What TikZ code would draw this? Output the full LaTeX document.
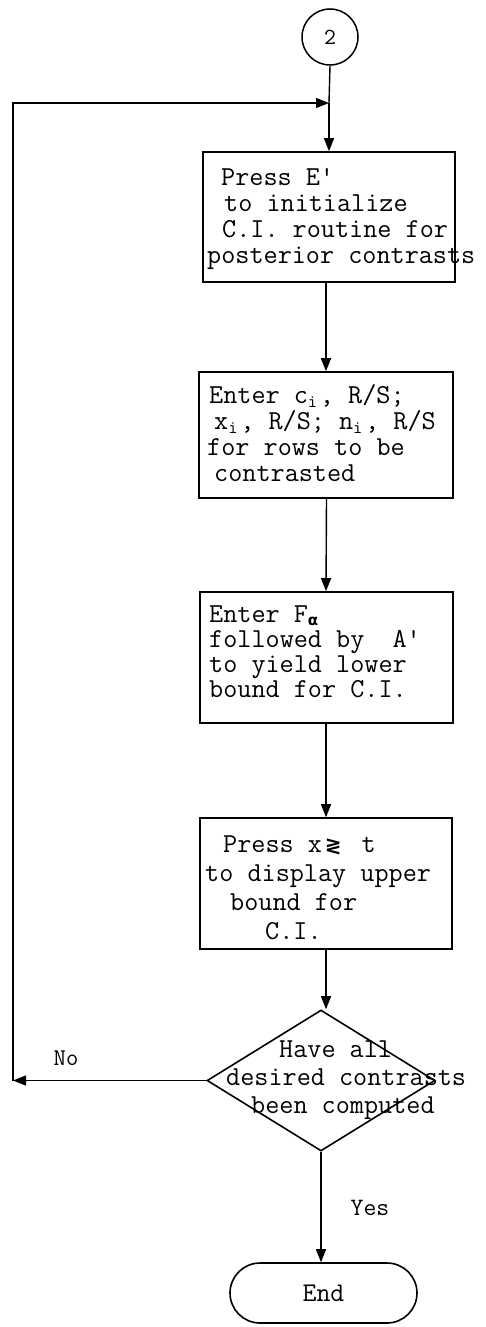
\documentclass[tikz,border=0pt]{standalone}
\usepackage{fontspec}
\newfontfamily\dejavu{DejaVu Sans}
\usetikzlibrary{arrows.meta,shapes.geometric}
\newcommand\tf[2]{\ttfamily\fontsize{#1}{#2}\selectfont}
\newcommand\subi{\raisebox{-4pt}{\makebox[12pt][l]{\fontsize{18}{18}\selectfont i}}}
\newcommand\fst{\rule{0pt}{21pt}}
\begin{document}
\begin{tikzpicture}[x=1pt,y=-1pt,
  every node/.style={font=\tf{27.4}{26}},
  box/.style={draw, rectangle, inner sep=0pt, line width=1.6pt},
  txt/.style={anchor=north west, inner sep=0pt, align=left},
  arr/.style={-{Triangle[length=13pt,width=10pt]}, line width=1.4pt},
  ln/.style={line width=1.4pt},
  lbl/.style={inner sep=0pt}]
\useasboundingbox (0,0) rectangle (485,1327);

% connector circle
\node[draw, circle, line width=1.5pt, minimum size=56pt, inner sep=0pt, font=\tf{23}{23}] (c) at (330,37) {2};
\coordinate (j) at (329,103);
\coordinate (cl) at (13,1080.5);

% boxes
\node[box, minimum width=252pt, minimum height=130pt] (b1) at (329,217) {};
\node[box, minimum width=254pt, minimum height=126pt] (b2) at (326,435) {};
\node[box, minimum width=253pt, minimum height=131pt] (b3) at (326.5,657.5) {};
\node[box, minimum width=252pt, minimum height=131pt] (b4) at (326,883.5) {};
\node[draw, diamond, line width=1.6pt, inner sep=0pt, aspect=1.62,
      minimum width=228pt, minimum height=141pt] (d) at (321,1080.5) {};
\node[draw, rectangle, rounded corners=30pt, line width=1.6pt,
      minimum width=187pt, minimum height=60pt, font=\tf{27}{27}] (e) at (323.5,1293) {End};

% texts
\node[txt, font=\tf{27.4}{26}] (t1) at (207,164)
  {\hspace*{14pt}\fst Press E\textquotesingle\\
   \hspace*{17pt}to initialize\\
   \hspace*{15pt}C.I. routine for\\
   posterior contrasts};
\node[txt, font=\tf{27.4}{26}] (t2) at (207,382)
  {\hspace*{2pt}\fst Enter c\subi, R/S;\\
   \hspace*{7pt}x\subi, R/S; n\subi, R/S\\
   for rows to be\\
   \hspace*{7pt}contrasted};
\node[txt, font=\tf{27.4}{25}] (t3) at (207,601)
  {\hspace*{2pt}\fst Enter F\raisebox{-3pt}{\dejavu\fontsize{15}{15}\selectfont\bfseries α}\\
   \hspace*{2pt}followed by\ \ A\textquotesingle\\
   \hspace*{2pt}to yield lower\\
   \hspace*{2pt}bound for C.I.};
\node[txt, font=\tf{27.4}{29}] (t4) at (205,831)
  {\hspace*{18pt}\fst Press x\hspace*{3pt}{\dejavu\fontsize{20}{20}\selectfont\bfseries ≷}\hspace*{20pt}t\\
   to display upper\\
   \hspace*{25pt}bound for\\
   \hspace*{60pt}C.I.};
\node[txt, font=\tf{27.4}{28}] (td) at (226,1036)
  {\hspace*{53pt}\fst Have all\\
   desired contrasts\\
   \hspace*{25pt}been computed};

% labels
\node[lbl, font=\tf{24}{24}] (no) at (66,1058) {No};
\node[lbl, font=\tf{25}{25}] (yes) at (370,1208) {Yes};

% connectors
\draw[ln] (c.south) -- (j);
\draw[arr] (j) -- (b1.north -| j);
\draw[arr] (b1.south -| b2) -- (b2.north);
\draw[arr] (b2.south -| b3) -- (b3.north -| b2);
\draw[arr] (b3.south -| b4) -- (b4.north);
\draw[arr] (b4.south -| b4) -- (b4.south |- d.north);
\draw[arr] (d.south) -- (d.south |- e.north);
\draw[arr] (d.west) -- (cl);
\draw[arr] (cl) |- (j);
\end{tikzpicture}
\end{document}
